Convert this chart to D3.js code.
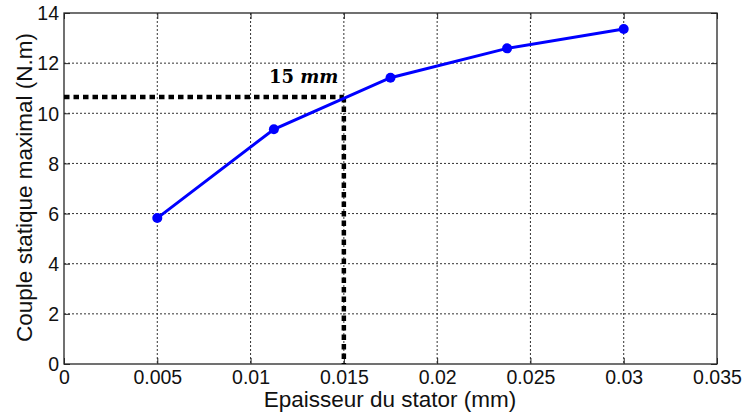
<!DOCTYPE html>
<html><head><meta charset="utf-8">
<script src="https://cdn.jsdelivr.net/npm/d3@7"></script>
<style>body{margin:0;background:#fff;} svg{display:block;}</style>
</head><body>
<svg id="c" width="744" height="412"></svg>
<script>
const thickness = [0.005, 0.01125, 0.0175, 0.02375, 0.03];
const torque = [5.82, 9.36, 11.42, 12.59, 13.36];
const xTicks = [0, 0.005, 0.01, 0.015, 0.02, 0.025, 0.03, 0.035];
const yTicks = [0, 2, 4, 6, 8, 10, 12, 14];
const marker = {x: 0.015, y: 10.65, label: "15"};

const svg = d3.select("#c");
const L = 64, R = 717, T = 13, B = 364;
const x = d3.scaleLinear().domain([0, 0.035]).range([L, R]);
const y = d3.scaleLinear().domain([0, 14]).range([B, T]);
const font = "'Liberation Sans', Arial, sans-serif";

// grid
const g = svg.append("g");
g.selectAll(".gx").data(xTicks.slice(1, -1)).join("line")
  .attr("x1", d => x(d)).attr("x2", d => x(d)).attr("y1", T).attr("y2", B)
  .attr("stroke", "#333").attr("stroke-width", 1).attr("stroke-dasharray", "2,2");
g.selectAll(".gy").data(yTicks.slice(1, -1)).join("line")
  .attr("y1", d => y(d)).attr("y2", d => y(d)).attr("x1", L).attr("x2", R)
  .attr("stroke", "#333").attr("stroke-width", 1).attr("stroke-dasharray", "2,2");

// axes with inner ticks
const xAxis = svg.append("g").attr("transform", `translate(0,${B})`)
  .call(d3.axisBottom(x).tickValues(xTicks).tickSize(-6).tickPadding(6)
    .tickFormat(d => d === 0 ? "0" : d3.format("")(+d.toFixed(3))));
const yAxis = svg.append("g").attr("transform", `translate(${L},0)`)
  .call(d3.axisLeft(y).tickValues(yTicks).tickSize(-6).tickPadding(5));
svg.append("g").attr("transform", `translate(0,${T})`)
  .call(d3.axisTop(x).tickValues(xTicks).tickSize(-6).tickFormat(""));
svg.append("g").attr("transform", `translate(${R},0)`)
  .call(d3.axisRight(y).tickValues(yTicks).tickSize(-6).tickFormat(""));
svg.selectAll(".domain").remove();
svg.selectAll(".tick line").attr("stroke", "#262626");
svg.selectAll(".tick text").attr("font-family", font).attr("font-size", 19.5).attr("fill", "#111");
yAxis.selectAll(".tick text").attr("dy", "0.35em");
svg.append("rect").attr("x", L).attr("y", T).attr("width", R - L).attr("height", B - T)
  .attr("fill", "none").attr("stroke", "#262626").attr("stroke-width", 1.3);

// crosshair
svg.append("line").attr("x1", x(0)).attr("x2", x(marker.x)).attr("y1", y(marker.y)).attr("y2", y(marker.y))
  .attr("stroke", "#000").attr("stroke-width", 4.5).attr("stroke-dasharray", "5.5,4");
svg.append("line").attr("x1", x(marker.x)).attr("x2", x(marker.x)).attr("y1", y(marker.y)).attr("y2", y(0))
  .attr("stroke", "#000").attr("stroke-width", 4.5).attr("stroke-dasharray", "5.5,4");

// data line
const line = d3.line().x((d, i) => x(thickness[i])).y(d => y(d));
svg.append("path").datum(torque).attr("d", line)
  .attr("fill", "none").attr("stroke", "#0000ff").attr("stroke-width", 3);
svg.selectAll(".pt").data(torque).join("circle")
  .attr("cx", (d, i) => x(thickness[i])).attr("cy", d => y(d)).attr("r", 5)
  .attr("fill", "#0000ff");

// label
const lab = svg.append("text").attr("x", 269).attr("y", 83)
  .attr("font-family", "'DejaVu Serif', 'Liberation Serif', serif").attr("font-size", 18).attr("font-weight", "bold");
lab.append("tspan").text(marker.label + " ");
lab.append("tspan").attr("font-style", "italic").text("mm");

// titles
svg.append("text").attr("x", (L + R) / 2 - 0.5).attr("y", 407).attr("text-anchor", "middle")
  .attr("font-family", font).attr("font-size", 22.5).attr("fill", "#111").text("Epaisseur du stator (mm)");
svg.append("text").attr("transform", `translate(32,${(T + B) / 2 - 1}) rotate(-90)`).attr("text-anchor", "middle")
  .attr("font-family", font).attr("font-size", 22.5).attr("fill", "#111").text("Couple statique maximal (N.m)");
</script>
</body></html>
